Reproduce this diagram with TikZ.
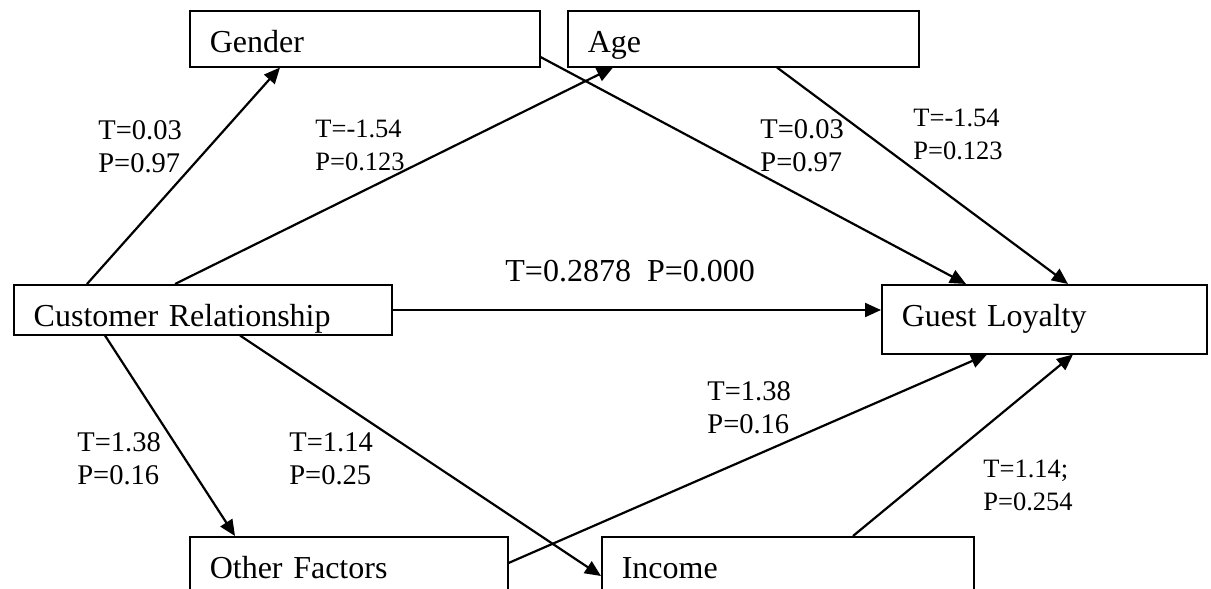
\documentclass[tikz,border=0pt]{standalone}
\usepackage{fontspec}
\setmainfont{Liberation Serif}
\usetikzlibrary{arrows.meta}

\begin{document}
\begin{tikzpicture}[x=0.5pt, y=-0.5pt,
            box/.style={draw, line width=0.75pt, anchor=north west, align=left, inner xsep=10pt, inner ysep=2.75pt, text height=18pt, font=\fontsize{16}{19}\selectfont},
            conn/.style={line width=1.1pt, -{Triangle[length=8pt, width=7pt]}},
            coef/.style={anchor=west, align=left, inner sep=0pt, font=\fontsize{14.25}{16.5}\selectfont},
            coefsm/.style={coef, font=\fontsize{13.25}{16.5}\selectfont}]
            \path[use as bounding box, clip] (0,0) rectangle (1211,589);

            % boxes
            \node[box, text width=155pt, text depth=4.5pt] (gender) at (189,10) {Gender};
            \node[box, text width=155.5pt, text depth=4.5pt] (age) at (567,10) {Age};
            \node[box, text width=169pt, text depth=1.5pt] (cr) at (13,284) {Customer Relationship};
            \node[box, text width=142.5pt, text depth=11pt] (gl) at (881,284) {Guest Loyalty};
            \node[box, text width=139pt, text depth=6.5pt] (other) at (189,536) {Other Factors};
            \node[box, text width=166pt, text depth=6.5pt] (income) at (601,536) {Income};

            % paths
            \draw[conn] ([xshift=37pt]cr.north west) -- ([xshift=45.5pt]gender.south west);
            \draw[conn] ([xshift=81pt]cr.north west) -- ([xshift=23pt]age.south west);
            \draw[conn] ([yshift=-23.5pt]gender.north east) -- ([xshift=42.5pt]gl.north west);
            \draw[conn] ([xshift=105pt]age.south west) -- ([xshift=93.5pt]gl.north west);
            \draw[conn] ([yshift=-13pt]cr.north east) -- ([yshift=-13pt]gl.north west);
            \draw[conn] ([xshift=46pt]cr.south west) -- ([xshift=23pt]other.north west);
            \draw[conn] ([xshift=113.5pt]cr.south west) -- ([yshift=-20pt]income.north west);
            \draw[conn] ([yshift=-13.5pt]other.north east) -- ([xshift=53pt]gl.south west);
            \draw[conn] ([xshift=126pt]income.north west) -- ([xshift=96pt]gl.south west);

            % coefficients
            \node[coef] (tgender) at (98,147) {T=0.03\\P=0.97};
            \node[coefsm] (tage) at (315,145) {T=-1.54\\P=0.123};
            \node[coef] (tgendergl) at (760,146) {T=0.03\\P=0.97};
            \node[coefsm] (tagegl) at (913,134) {T=-1.54\\P=0.123};
            \node[coef, font=\fontsize{16}{19}\selectfont] (tcrgl) at (505,271) {T=0.2878\ \ P=0.000};
            \node[coef] (tother) at (77,459) {T=1.38\\P=0.16};
            \node[coef] (tincome) at (289,459) {T=1.14\\P=0.25};
            \node[coef] (tothergl) at (707,408) {T=1.38\\P=0.16};
            \node[coefsm] (tincomegl) at (983,485) {T=1.14;\\P=0.254};
        \end{tikzpicture}
\end{document}
